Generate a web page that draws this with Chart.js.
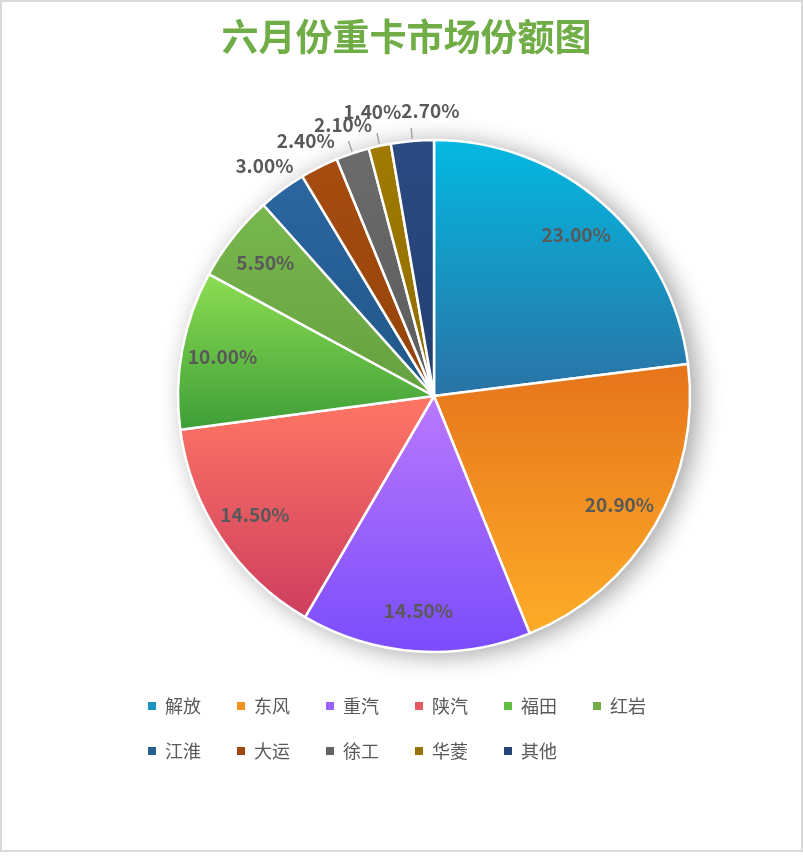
<!DOCTYPE html>
<html>
<head>
<meta charset="utf-8">
<script src="https://cdn.jsdelivr.net/npm/chart.js@4.4.1/dist/chart.umd.min.js"></script>
<style>
  html, body { margin: 0; padding: 0; background: #fff; }
  #wrap { position: relative; width: 803px; height: 852px; }
  #frame { position: absolute; left: 0; top: 0; width: 803px; height: 852px; box-sizing: border-box; border: 2px solid #d9d9d9; pointer-events: none; }
  canvas { position: absolute; left: 0; top: 0; }
</style>
</head>
<body>
<div id="wrap">
  <canvas id="pie-chart" width="803" height="852"></canvas>
  <div id="frame"></div>
</div>
<script>
const titleText = "六月份重卡市场份额图";
const brands = ["解放", "东风", "重汽", "陕汽", "福田", "红岩", "江淮", "大运", "徐工", "华菱", "其他"];
const shares = [23.0, 20.9, 14.5, 14.5, 10.0, 5.5, 3.0, 2.4, 2.1, 1.4, 2.7];

// slice colours: top and bottom of each slice's gradient, plus a flat one for the legend
const gradTop = ["#03b9e1", "#e6741b", "#ba79fd", "#ff7664", "#8ddd53", "#78b74e", "#2a66a0", "#a64c10", "#6b6b6b", "#a07a00", "#2a4a82"];
const gradBottom = ["#2a72a5", "#fdac28", "#7a4cfb", "#cd3e5f", "#3e9e37", "#66a040", "#215788", "#944309", "#5c5c5c", "#8f6c00", "#223f70"];
const legendColors = ["#1a95c3", "#f29022", "#9a62fc", "#e65b62", "#62be45", "#70ad47", "#255e91", "#9e480e", "#636363", "#997300", "#264478"];

const FONT = '"Noto Sans CJK SC", "Noto Sans", sans-serif';

function spansAngle(s, e, t) {
  const TAU = Math.PI * 2;
  while (t < s) t += TAU;
  while (t - TAU >= s) t -= TAU;
  return t <= e;
}

// shadow under the pie + vertical gradient on every slice
const shadeSlices = {
  id: "shadeSlices",
  beforeDatasetsDraw(chart) {
    const ctx = chart.ctx;
    const arcs = chart.getDatasetMeta(0).data;
    if (!arcs.length) return;
    const { x, y, outerRadius } = arcs[0];
    ctx.save();
    ctx.beginPath();
    ctx.arc(x, y, outerRadius, 0, Math.PI * 2);
    ctx.fillStyle = "#fff";
    ctx.shadowColor = "rgba(0,0,0,0.38)";
    ctx.shadowBlur = 26;
    ctx.shadowOffsetX = 7;
    ctx.shadowOffsetY = 3;
    ctx.fill();
    ctx.restore();

    arcs.forEach((arc, i) => {
      const s = arc.startAngle, e = arc.endAngle;
      const ys = [y, y + outerRadius * Math.sin(s), y + outerRadius * Math.sin(e)];
      if (spansAngle(s, e, -Math.PI / 2)) ys.push(y - outerRadius);
      if (spansAngle(s, e, Math.PI / 2)) ys.push(y + outerRadius);
      const top = Math.min(...ys), bottom = Math.max(...ys);
      const g = ctx.createLinearGradient(0, top, 0, bottom > top ? bottom : top + 1);
      g.addColorStop(0, gradTop[i]);
      g.addColorStop(1, gradBottom[i]);
      arc.options.backgroundColor = g;
    });
  }
};

// percentage labels: inside for big slices, outside (with short leaders) for small ones
const sliceLabels = {
  id: "sliceLabels",
  afterDatasetsDraw(chart) {
    const ctx = chart.ctx;
    const arcs = chart.getDatasetMeta(0).data;
    const boxH = 13;
    ctx.save();
    ctx.font = "bold 19px " + FONT;
    ctx.fillStyle = "#595959";
    ctx.textAlign = "center";
    ctx.textBaseline = "middle";
    let prev = null;
    arcs.forEach((arc, i) => {
      const { x, y, outerRadius: r, startAngle, endAngle } = arc;
      const mid = (startAngle + endAngle) / 2;
      const cos = Math.cos(mid), sin = Math.sin(mid);
      const text = shares[i].toFixed(2) + "%";
      if (shares[i] >= 5) {
        ctx.fillText(text, x + cos * r * 0.84, y + sin * r * 0.84);
        return;
      }
      const w = ctx.measureText(text).width;
      let dist = r + 30;
      let lx = x + cos * dist, ly = y + sin * dist;
      if (prev && lx - w / 2 < prev.right && Math.abs(ly - prev.y) < boxH) {
        if (Math.abs(ly - prev.y) < 6) {
          lx = prev.right + w / 2;           // side by side: slide right
        } else {
          while (Math.abs(ly - prev.y) < boxH && dist < r + 60) {   // stacked: push outward
            dist += 1;
            lx = x + cos * dist; ly = y + sin * dist;
          }
        }
      }
      if (Math.abs(cos) < 0.4) {
        ctx.beginPath();
        ctx.moveTo(x + cos * (r + 2), y + sin * (r + 2));
        ctx.lineTo(x + cos * (r + 13), y + sin * (r + 13));
        ctx.strokeStyle = "#a6a6a6";
        ctx.lineWidth = 1.5;
        ctx.stroke();
      }
      ctx.fillText(text, lx, ly);
      prev = { y: ly, right: lx + w / 2 };
    });
    ctx.restore();
  }
};

// title centred on the whole frame, not on the pie
const chartTitle = {
  id: "chartTitle",
  afterDraw(chart) {
    const ctx = chart.ctx;
    ctx.save();
    ctx.font = "bold 37px " + FONT;
    ctx.fillStyle = "#70ad47";
    ctx.textAlign = "center";
    ctx.textBaseline = "middle";
    ctx.fillText(titleText, chart.width / 2 + 5, 37);
    ctx.restore();
  }
};

new Chart(document.getElementById("pie-chart"), {
  type: "pie",
  data: {
    labels: brands,
    datasets: [{
      data: shares,
      backgroundColor: legendColors,
      borderColor: "#ffffff",
      borderWidth: 2.5,
      radius: 256
    }]
  },
  options: {
    responsive: false,
    animation: false,
    events: [],
    layout: { padding: { top: 122, bottom: 82, left: 121, right: 56 } },
    plugins: {
      title: { display: false },
      tooltip: { enabled: false },
      legend: {
        position: "bottom",
        align: "start",
        labels: {
          boxWidth: 8,
          boxHeight: 8,
          padding: 27,
          color: "#595959",
          font: { family: FONT, size: 18 },
          generateLabels: () => brands.map((name, i) => ({
            text: name + "\u2002",
            fillStyle: legendColors[i],
            strokeStyle: legendColors[i],
            lineWidth: 0,
            fontColor: "#595959",
            hidden: false,
            index: i
          }))
        }
      }
    }
  },
  plugins: [shadeSlices, sliceLabels, chartTitle]
});
</script>
</body>
</html>
